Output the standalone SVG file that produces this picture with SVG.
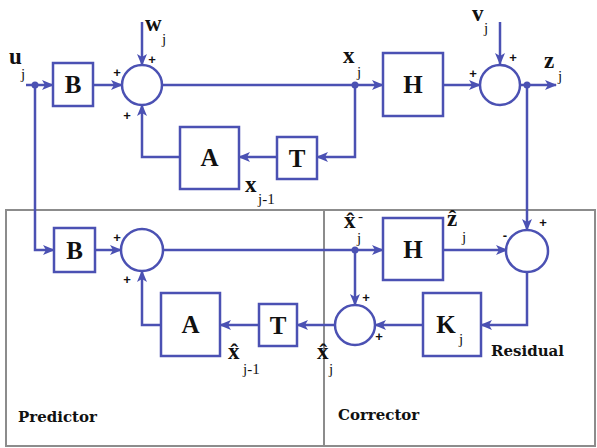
<svg xmlns="http://www.w3.org/2000/svg" width="597" height="448" viewBox="0 0 597 448">
<style>
.ln{fill:none;stroke:#4b51b3;stroke-width:2.5}
.bx{fill:#fff;stroke:#4b51b3;stroke-width:2.5}
.fr{fill:none;stroke:#8c8c8c;stroke-width:2}
.bl{font-family:"Liberation Serif",serif;font-weight:bold;fill:#111}
.big{font-size:25px;text-anchor:middle}
.var{font-size:23px}
.sub{font-family:"Liberation Serif",serif;font-size:15px;fill:#111}
.sg{font-family:"Liberation Sans",sans-serif;font-weight:bold;font-size:13px;fill:#111;text-anchor:middle}
.cap{font-family:"DejaVu Serif",serif;font-weight:bold;font-size:15px;fill:#111}
.dot{fill:#4b51b3}
</style>
<defs>
<marker id="ar" viewBox="0 0 12 10" refX="11" refY="5" markerWidth="12" markerHeight="10" markerUnits="userSpaceOnUse" orient="auto">
<path d="M0,0 L12,5 L0,10 L3,5 z" fill="#4b51b3"/>
</marker>
</defs>
<rect width="597" height="448" fill="#fff"/>
<g id="frame">
<rect class="fr" x="6" y="210" width="589" height="236"/>
<line class="fr" x1="324" y1="210" x2="324" y2="446"/>
</g>
<g id="connectors" marker-end="url(#ar)">
<path class="ln" d="M26,85 H53"/>
<path class="ln" d="M35,85 V250 H54"/>
<path class="ln" d="M93,85 H122"/>
<path class="ln" d="M142,22 V65"/>
<path class="ln" d="M162,85 H383"/>
<path class="ln" d="M355,85 V157 H317"/>
<path class="ln" d="M277,157 H239"/>
<path class="ln" d="M180,157 H142 V105"/>
<path class="ln" d="M443,85 H480"/>
<path class="ln" d="M500,22 V64"/>
<path class="ln" d="M520,85 H556"/>
<path class="ln" d="M527,85 V230"/>
<path class="ln" d="M95,250 H121"/>
<path class="ln" d="M163,250 H383"/>
<path class="ln" d="M355,250 V305"/>
<path class="ln" d="M443,250 H507"/>
<path class="ln" d="M527,272 V325 H481"/>
<path class="ln" d="M423,325 H375"/>
<path class="ln" d="M335,325 H297"/>
<path class="ln" d="M259,325 H220"/>
<path class="ln" d="M161,325 H142 V271"/>
</g>
<g id="dots">
<circle class="dot" cx="35" cy="85" r="3.5"/>
<circle class="dot" cx="355" cy="85" r="3.5"/>
<circle class="dot" cx="527" cy="85" r="3.5"/>
<circle class="dot" cx="355" cy="250" r="3.5"/>
</g>
<g id="B1"><rect class="bx" x="53" y="63" width="40" height="43"/><text class="bl big" x="73" y="93">B</text></g>
<g id="sum1"><circle class="bx" cx="142" cy="85" r="20"/><text class="sg" x="117" y="77">+</text><text class="sg" x="152" y="64">+</text><text class="sg" x="127" y="120">+</text></g>
<g id="A1"><rect class="bx" x="180" y="127" width="59" height="62"/><text class="bl big" x="209.5" y="166">A</text></g>
<g id="T1"><rect class="bx" x="277" y="137" width="40" height="42"/><text class="bl big" x="297" y="167">T</text></g>
<g id="H1"><rect class="bx" x="383" y="53" width="60" height="63"/><text class="bl big" x="413" y="93">H</text></g>
<g id="sum2"><circle class="bx" cx="500" cy="85" r="20"/><text class="sg" x="473" y="78">+</text><text class="sg" x="513" y="62">+</text></g>
<g id="B2"><rect class="bx" x="54" y="228" width="41" height="44"/><text class="bl big" x="74.5" y="259">B</text></g>
<g id="sum3"><circle class="bx" cx="142" cy="250" r="21"/><text class="sg" x="117" y="242">+</text><text class="sg" x="127" y="284">+</text></g>
<g id="A2"><rect class="bx" x="161" y="293" width="59" height="63"/><text class="bl big" x="190.5" y="333">A</text></g>
<g id="T2"><rect class="bx" x="259" y="304" width="38" height="42"/><text class="bl big" x="278" y="334">T</text></g>
<g id="sum4"><circle class="bx" cx="355" cy="325" r="20"/><text class="sg" x="366" y="302">+</text><text class="sg" x="379" y="341">+</text></g>
<g id="H2"><rect class="bx" x="383" y="218" width="60" height="62"/><text class="bl big" x="413" y="258">H</text></g>
<g id="sum5"><circle class="bx" cx="527" cy="251" r="21"/><text class="sg" x="543" y="227">+</text><text class="sg" x="505" y="240">-</text></g>
<g id="K"><rect class="bx" x="423" y="293" width="58" height="63"/><text class="bl big" x="446" y="333">K</text><text class="sub" x="459" y="344">j</text></g>
<g id="labels">
<text class="bl var" x="9" y="64">u</text><text class="sub" x="21" y="79">j</text>
<text class="bl var" x="145" y="31">w</text><text class="sub" x="162" y="44">j</text>
<text class="bl var" x="343" y="63">x</text><text class="sub" x="357" y="77">j</text>
<text class="bl var" x="245" y="192">x</text><text class="sub" x="258" y="204">j-1</text>
<text class="bl var" x="472" y="21">v</text><text class="sub" x="484" y="33">j</text>
<text class="bl var" x="544" y="68">z</text><text class="sub" x="558" y="81">j</text>
<text class="bl var" x="344" y="228">x̂</text><text class="sub" x="358" y="221">-</text><text class="sub" x="357" y="243">j</text>
<text class="bl var" x="447" y="226">ẑ</text><text class="sub" x="462" y="242">j</text>
<text class="bl var" x="228" y="359">x̂</text><text class="sub" x="243" y="374">j-1</text>
<text class="bl var" x="317" y="359">x̂</text><text class="sub" x="329" y="374">j</text>
<text class="cap" x="491" y="356">Residual</text>
<text class="cap" x="18" y="422">Predictor</text>
<text class="cap" x="338" y="420">Corrector</text>
</g>
</svg>
